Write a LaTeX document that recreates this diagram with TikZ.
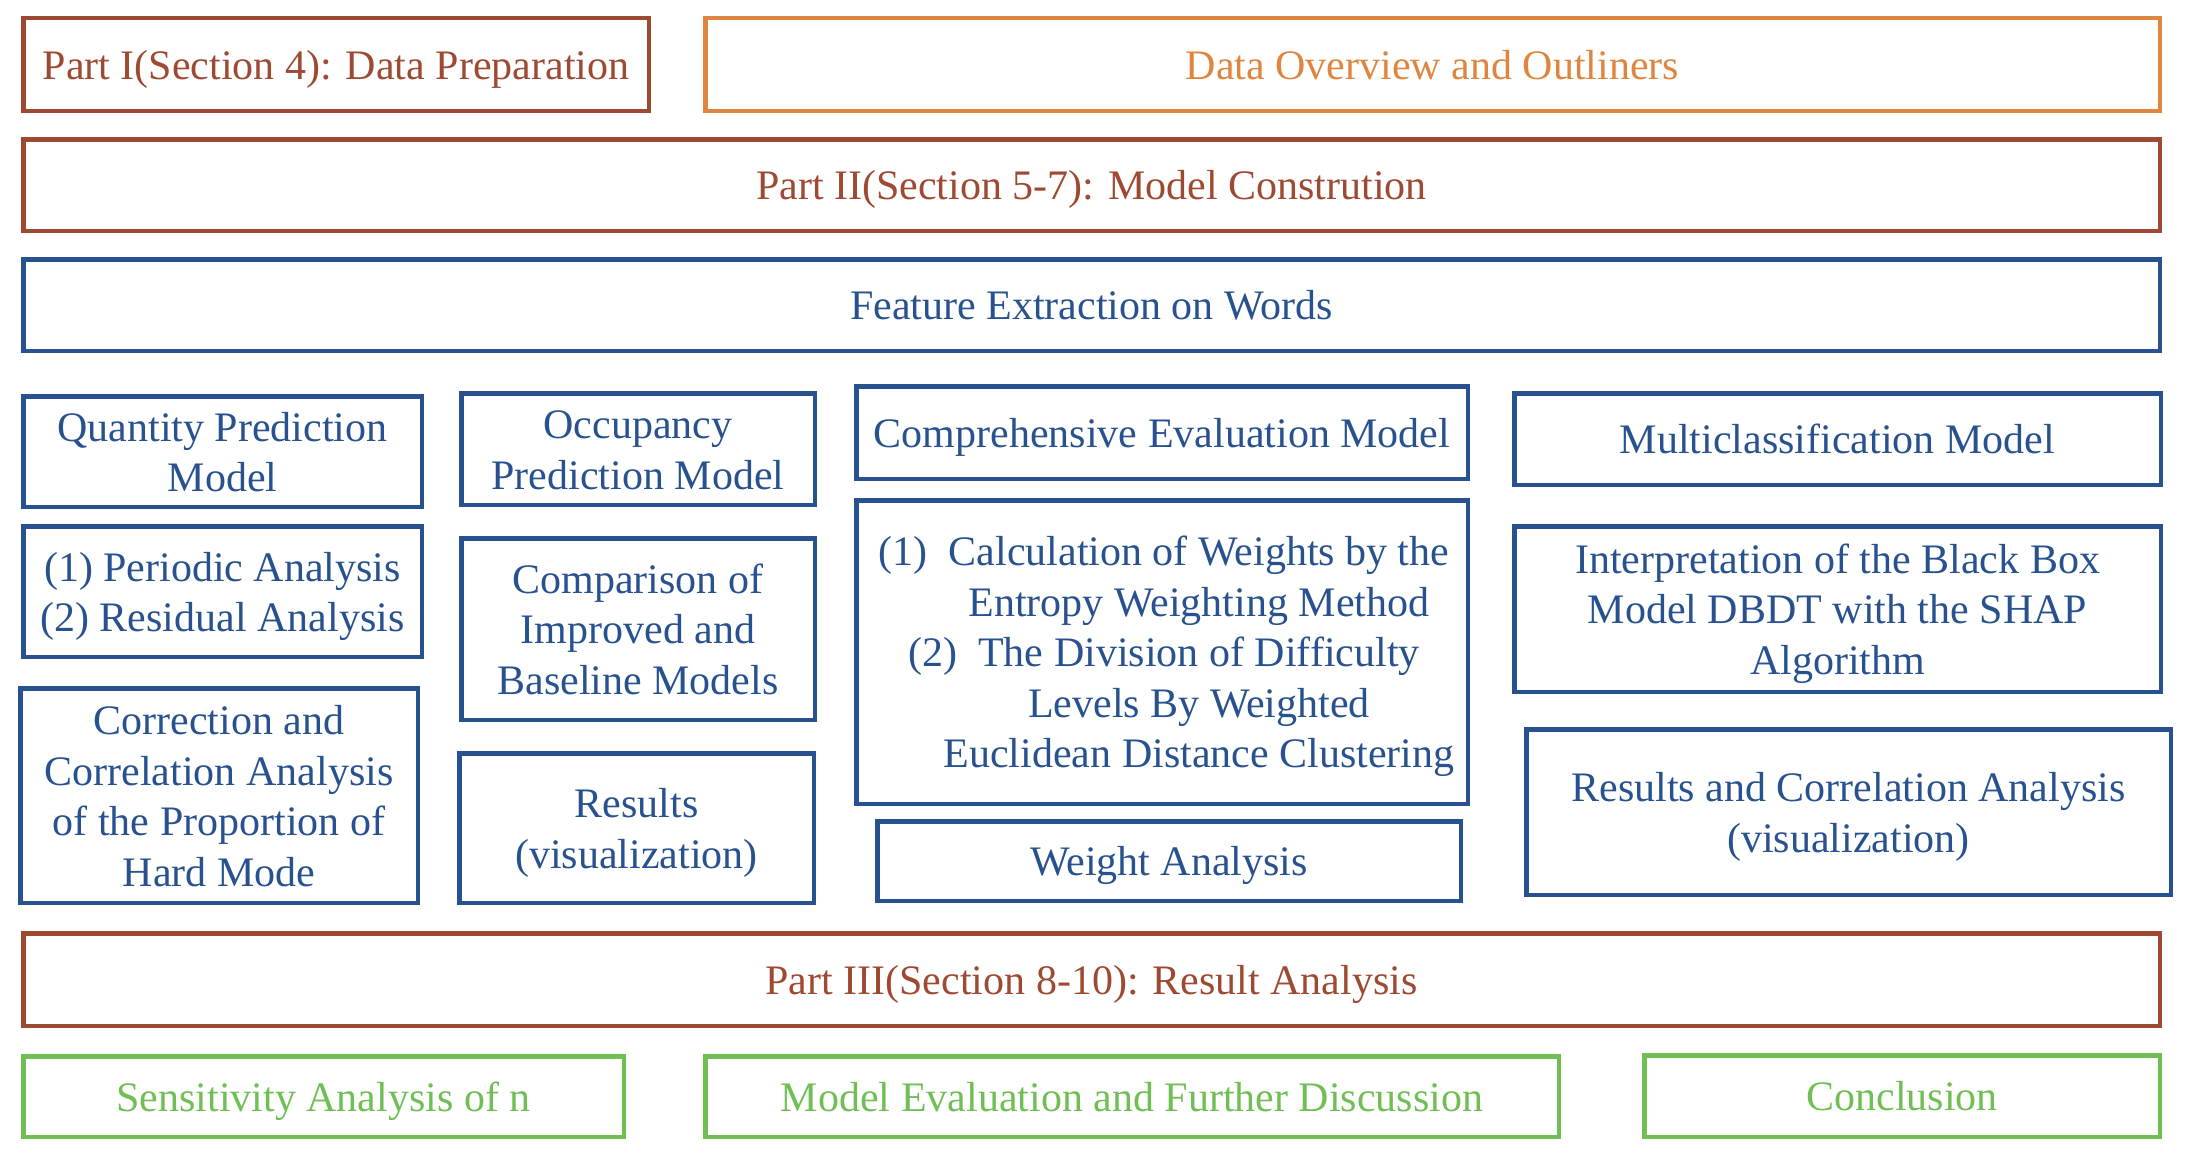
\documentclass[tikz,border=0pt]{standalone}
\usepackage{fontspec}
\setmainfont{Liberation Serif}
\definecolor{cbrown}{HTML}{9E4A32}
\definecolor{corange}{HTML}{E0853F}
\definecolor{cblue}{HTML}{28528F}
\definecolor{cgreen}{HTML}{70BF55}
\newcommand{\mystrut}{\rule[-10.5pt]{0pt}{50.5pt}}
\newcommand{\mybox}[7]{%
 \pgfmathsetmacro\mbW{#5-#3-4.5}\pgfmathsetmacro\mbH{#6-#4-4.5}%
 \node[#1, minimum width=\mbW pt, minimum height=\mbH pt] (#2) at ({(#3+#5)/2},{(#4+#6)/2}) {\mystrut#7\mystrut};}
\tikzset{
 txt/.style={inner sep=0pt, align=center, font=\fontsize{42}{50.5}\selectfont},
 base/.style={txt, draw, line width=4.5pt},
 brownbox/.style={base, draw=cbrown, text=cbrown},
 orangebox/.style={base, draw=corange, text=corange},
 bluebox/.style={base, draw=cblue, text=cblue},
 greenbox/.style={base, draw=cgreen, text=cgreen},
}
\begin{document}
\begin{tikzpicture}[x=1pt,y=-1pt]
\useasboundingbox (0,0) rectangle (2196,1172);
\mybox{brownbox}{p1}{21}{16}{651}{113}{Part I(Section 4): Data Preparation}
\mybox{orangebox}{ov}{703}{16}{2162}{113}{Data Overview and Outliners}
\mybox{brownbox}{p2}{21}{137}{2162}{233}{Part II(Section 5-7): Model Constrution}
\mybox{bluebox}{fe}{21}{257}{2162}{353}{Feature Extraction on Words}
\mybox{bluebox}{qp}{21}{394}{424}{509}{Quantity Prediction\\Model}
\mybox{bluebox}{pa}{21}{524}{424}{659}{(1) Periodic Analysis\\(2) Residual Analysis}
\mybox{bluebox}{co}{18}{686}{420}{905}{Correction and\\Correlation Analysis\\of the Proportion of\\Hard Mode}
\mybox{bluebox}{op}{459}{391}{817}{507}{Occupancy\\Prediction Model}
\mybox{bluebox}{cm}{459}{536}{817}{722}{Comparison of\\Improved and\\Baseline Models}
\mybox{bluebox}{rs}{457}{751}{816}{905}{Results\\(visualization)}
\mybox{bluebox}{ce}{854}{384}{1470}{481}{Comprehensive Evaluation Model}
\mybox{bluebox}{ca}{854}{498}{1470}{806}{}
\node[txt, text=cblue, xshift=37pt] (catext) at (ca.center)
 {\mystrut\makebox[0pt][r]{(1)\ \ }Calculation of Weights by the\\Entropy Weighting Method\\\makebox[0pt][r]{(2)\ \ }The Division of Difficulty\\Levels By Weighted\\Euclidean Distance Clustering\mystrut};
\mybox{bluebox}{wa}{875}{819}{1463}{903}{Weight Analysis}
\mybox{bluebox}{mc}{1512}{391}{2163}{487}{Multiclassification Model}
\mybox{bluebox}{ip}{1512}{524}{2163}{694}{Interpretation of the Black Box\\Model DBDT with the SHAP\\Algorithm}
\mybox{bluebox}{rc}{1524}{727}{2173}{897}{Results and Correlation Analysis\\(visualization)}
\mybox{brownbox}{p3}{21}{931}{2162}{1028}{Part III(Section 8-10): Result Analysis}
\mybox{greenbox}{sa}{21}{1054}{626}{1139}{Sensitivity Analysis of n}
\mybox{greenbox}{me}{703}{1054}{1561}{1139}{Model Evaluation and Further Discussion}
\mybox{greenbox}{cl}{1642}{1053}{2162}{1139}{Conclusion}
\end{tikzpicture}
\end{document}
